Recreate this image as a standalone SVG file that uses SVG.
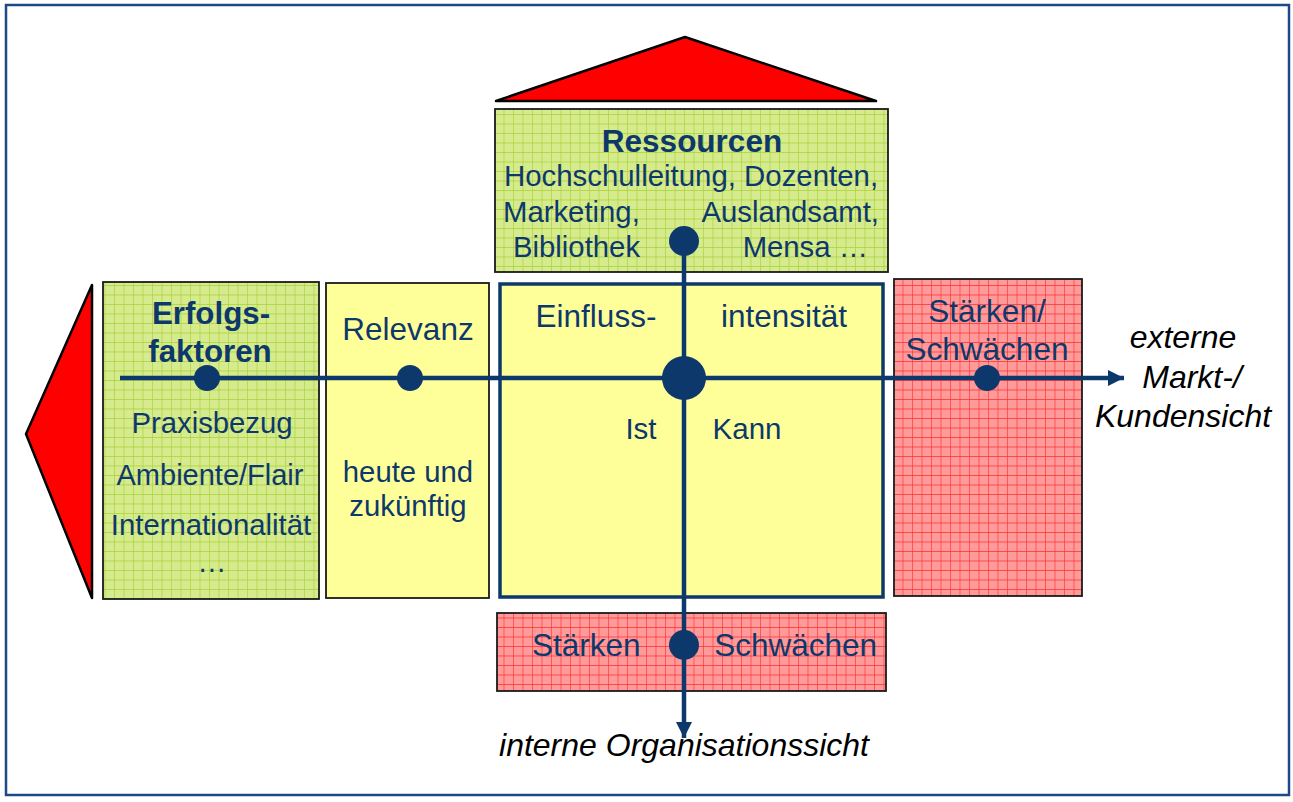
<svg xmlns="http://www.w3.org/2000/svg" width="1293" height="802" viewBox="0 0 1293 802">
<defs>
<pattern id="pg" patternUnits="userSpaceOnUse" width="9.5" height="9.5">
<rect width="9.5" height="9.5" fill="#d6ea8e"/>
<path d="M0 0H9.5M0 0V9.5" stroke="#a6d132" stroke-width="1.2"/>
</pattern>
<pattern id="pr" patternUnits="userSpaceOnUse" width="9.5" height="9.5">
<rect width="9.5" height="9.5" fill="#ff9a9a"/>
<path d="M0 0H9.5M0 0V9.5" stroke="#ff2a2a" stroke-width="1.2"/>
</pattern>
<marker id="ah" markerUnits="userSpaceOnUse" markerWidth="18" markerHeight="18" refX="16" refY="8" orient="auto">
<path d="M0 0L16 8L0 16Z" fill="#0d386b"/>
</marker>
</defs>
<style>
.t{font-family:"Liberation Sans",Arial,sans-serif;fill:#0d386b}
.b{font-weight:bold}
.i{font-family:"Liberation Sans",Arial,sans-serif;fill:#000;font-style:italic}
.box{stroke:#1a1a1a;stroke-width:1.8}
.tri{fill:#ff0000;stroke:#000;stroke-width:2.5;stroke-linejoin:round}
.ln{stroke:#0d386b;stroke-width:4.5;fill:none}
.dot{fill:#0d386b}
</style>
<rect x="6" y="5" width="1283" height="790" fill="#fff" stroke="#1d4a85" stroke-width="2.5"/>

<g id="triangle-top"><polygon class="tri" points="496,101 685,37 876,101"/></g>
<g id="triangle-left"><polygon class="tri" points="92,285 26,434 92,598"/></g>

<g id="ressourcen">
<rect class="box" x="495" y="109" width="393" height="163" fill="url(#pg)"/>
<text class="t b" x="692" y="152" text-anchor="middle" font-size="31.5">Ressourcen</text>
<text class="t" x="691" y="186" text-anchor="middle" font-size="29.4">Hochschulleitung, Dozenten,</text>
<text class="t" x="503" y="222" font-size="29.3">Marketing,</text>
<text class="t" x="879" y="222" text-anchor="end" font-size="29.3">Auslandsamt,</text>
<text class="t" x="513" y="257" font-size="29.3">Bibliothek</text>
<text class="t" x="868" y="257" text-anchor="end" font-size="29.3">Mensa …</text>
</g>

<g id="erfolgsfaktoren">
<rect class="box" x="103" y="282" width="216" height="317" fill="url(#pg)"/>
<text class="t b" x="211" y="324" text-anchor="middle" font-size="31.3">Erfolgs-</text>
<text class="t b" x="210" y="362" text-anchor="middle" font-size="31.3">faktoren</text>
<text class="t" x="212" y="433" text-anchor="middle" font-size="29.3">Praxisbezug</text>
<text class="t" x="210" y="485" text-anchor="middle" font-size="29">Ambiente/Flair</text>
<text class="t" x="211" y="535" text-anchor="middle" font-size="29.3">Internationalität</text>
<text class="t" x="212" y="572" text-anchor="middle" font-size="29.3">…</text>
</g>

<g id="relevanz">
<rect class="box" x="326" y="283" width="163" height="315" fill="#ffff99"/>
<text class="t" x="408" y="340" text-anchor="middle" font-size="31.5">Relevanz</text>
<text class="t" x="408" y="482" text-anchor="middle" font-size="29.3">heute und</text>
<text class="t" x="408" y="516" text-anchor="middle" font-size="29.3">zukünftig</text>
</g>

<g id="einflussintensitaet">
<rect x="500" y="284" width="383" height="313" fill="#ffff99" stroke="#0d386b" stroke-width="3.5"/>
<text class="t" x="596" y="327" text-anchor="middle" font-size="31.5">Einfluss-</text>
<text class="t" x="784" y="327" text-anchor="middle" font-size="31.5">intensität</text>
<text class="t" x="641" y="439" text-anchor="middle" font-size="29.5">Ist</text>
<text class="t" x="747" y="439" text-anchor="middle" font-size="29.5">Kann</text>
</g>

<g id="staerken-schwaechen-rechts">
<rect class="box" x="894" y="279" width="188" height="317" fill="url(#pr)"/>
<text class="t" x="987" y="322" text-anchor="middle" font-size="31.5">Stärken/</text>
<text class="t" x="987" y="360" text-anchor="middle" font-size="31.5">Schwächen</text>
</g>

<g id="staerken-schwaechen-unten">
<rect class="box" x="497" y="613" width="389" height="78" fill="url(#pr)"/>
<text class="t" x="532" y="656" font-size="31.5">Stärken</text>
<text class="t" x="877" y="656" text-anchor="end" font-size="31.5">Schwächen</text>
</g>

<g id="connectors">
<line class="ln" x1="120" y1="378" x2="1124" y2="378" marker-end="url(#ah)"/>
<line class="ln" x1="684" y1="241" x2="684" y2="738" marker-end="url(#ah)"/>
<circle class="dot" cx="207" cy="378" r="13"/>
<circle class="dot" cx="410" cy="378" r="13"/>
<circle class="dot" cx="684" cy="378" r="22"/>
<circle class="dot" cx="987" cy="378" r="13"/>
<circle class="dot" cx="684" cy="241" r="15"/>
<circle class="dot" cx="684" cy="645" r="15"/>
</g>

<g id="labels">
<text class="i" x="1183" y="348" text-anchor="middle" font-size="32">externe</text>
<text class="i" x="1192" y="388" text-anchor="middle" font-size="32">Markt-/</text>
<text class="i" x="1183" y="427" text-anchor="middle" font-size="32">Kundensicht</text>
<text class="i" x="684" y="756" text-anchor="middle" font-size="32">interne Organisationssicht</text>
</g>
</svg>
